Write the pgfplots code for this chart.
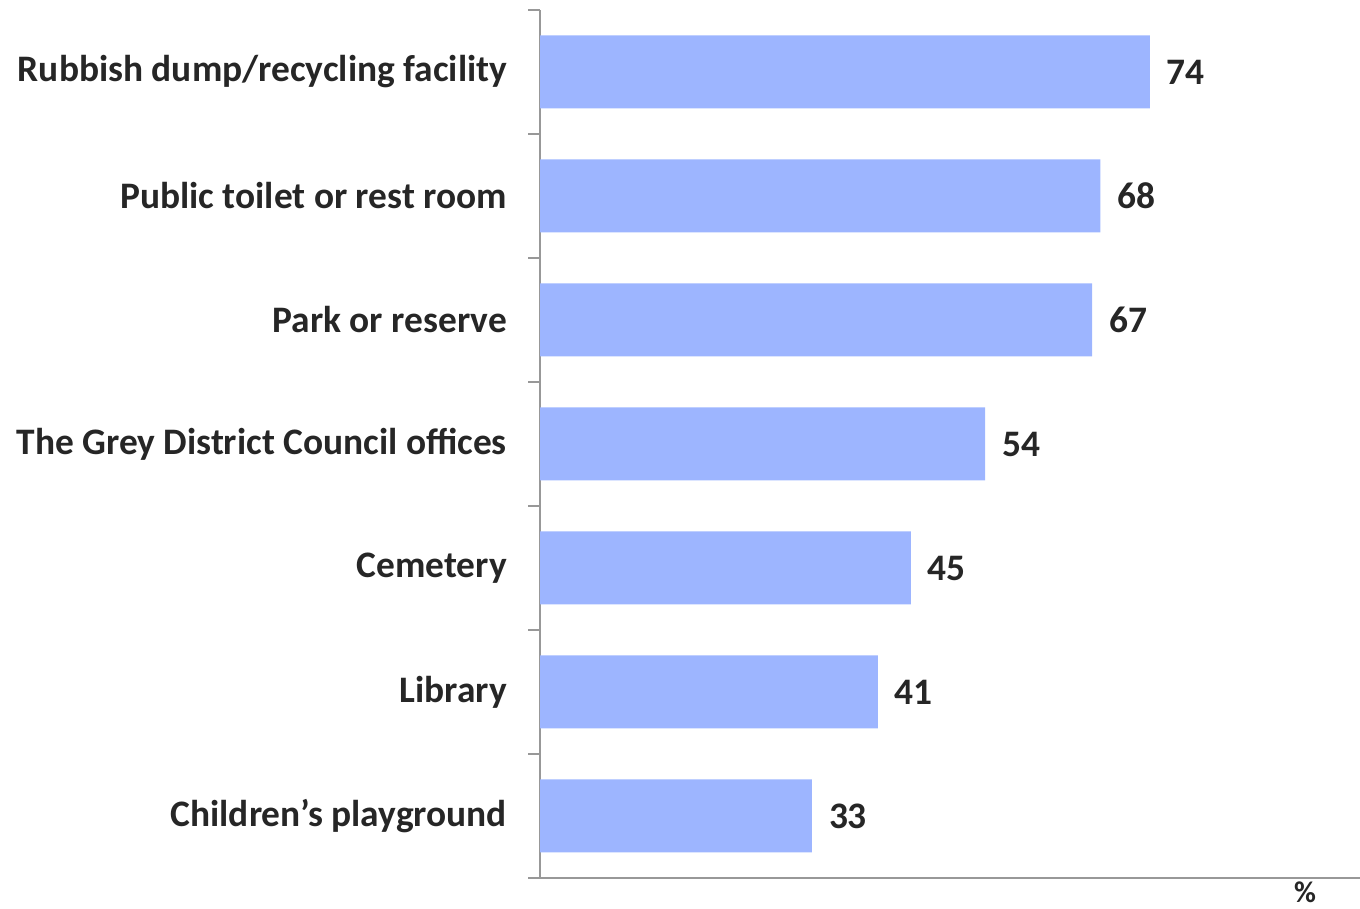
\documentclass[border=0pt]{standalone}
\usepackage{fontspec}
\setmainfont{Carlito}
\usepackage{pgfplots}
\pgfplotsset{compat=1.18}
\definecolor{barblue}{HTML}{9DB5FF}
\definecolor{axgray}{HTML}{989898}
\definecolor{txt}{HTML}{262626}
\begin{document}
\begin{tikzpicture}
\useasboundingbox (0,0) rectangle (680pt,454.5pt);
\begin{axis}[
  at={(270pt,15.5pt)}, anchor=south west,
  scale only axis,
  width=410pt, height=434pt,
  xbar, bar width=36.5pt,
  xmin=0, xmax=99.5,
  ymin=-0.5, ymax=6.5,
  axis x line=bottom, axis y line=left,
  axis line style={-, axgray, line width=1pt},
  xtick=\empty,
  ytick={0,...,6},
  yticklabels={Children’s playground, Library, Cemetery, The Grey District Council offices, Park or reserve, Public toilet or rest room, Rubbish dump/recycling facility},
  major tick length=0pt,
  minor ytick={-0.5,0.5,...,6.5},
  minor tick length=6pt,
  ytick align=outside,
  tick style={axgray, line width=1pt},
  yticklabel style={font=\fontsize{18.7}{20}\selectfont\bfseries, text=txt, xshift=-13pt},
  xlabel={\%},
  xlabel style={at={(axis description cs:0.933,0)}, anchor=north, inner sep=0pt, yshift=-1.5pt, font=\fontsize{15}{17}\selectfont\bfseries, text=txt},
  nodes near coords,
  nodes near coords style={font=\fontsize{18.7}{20}\selectfont\bfseries, text=txt, anchor=west, xshift=5pt, /pgf/number format/assume math mode=true},
  clip=false,
]
\addplot[fill=barblue, draw=none] coordinates {(33,0) (41,1) (45,2) (54,3) (67,4) (68,5) (74,6)};
\end{axis}
\end{tikzpicture}
\end{document}
